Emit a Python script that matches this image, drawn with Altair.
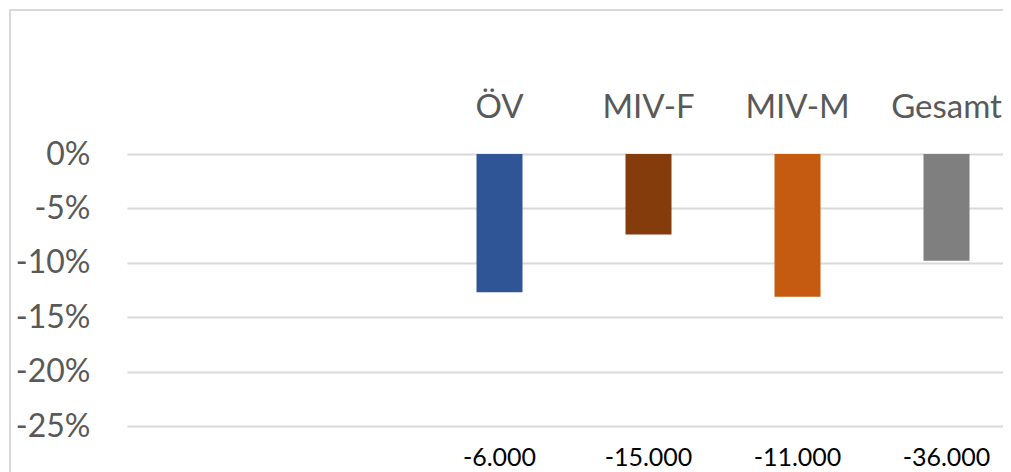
import altair as alt
import pandas as pd

# Data
placeholders = ["", " "]  # two empty category slots on the left
categories = ["ÖV", "MIV-F", "MIV-M", "Gesamt"]
values = [-0.127, -0.074, -0.131, -0.098]
value_labels = ["-6.000", "-15.000", "-11.000", "-36.000"]
colors = ["#2F5597", "#843C0C", "#C55A11", "#7F7F7F"]
y_ticks = [0, -0.05, -0.10, -0.15, -0.20, -0.25]
label_level = -0.279

df = pd.DataFrame({"cat": categories, "val": values, "lab": value_labels,
                   "lvl": [label_level] * len(categories)})

FONT = "Lato"
GRID = "#D9D9D9"

# step 149 px, bar 46 px; the last band runs past the visible edge
x_scale = alt.Scale(domain=placeholders + categories,
                    paddingInner=0.69128, paddingOuter=0.28523, align=0.6059)
y_scale = alt.Scale(domain=[-0.30, 0], range=[326.7, 0], nice=False)

base = alt.Chart(df)

bars = base.mark_bar().encode(
    x=alt.X("cat:N", scale=x_scale, sort=placeholders + categories,
            axis=alt.Axis(orient="top", title=None, labelAngle=0, ticks=False,
                          tickSize=0, domain=False, grid=False,
                          labelPadding=37, labelBaseline="alphabetic",
                          labelFont=FONT, labelFontSize=33, labelColor="#595959")),
    y=alt.Y("val:Q", scale=y_scale,
            axis=alt.Axis(title=None, values=y_ticks, ticks=False, tickSize=0,
                          domain=False, grid=True, gridColor=GRID, gridWidth=2,
                          labelExpr="toString(round(datum.value*100)) + '%'",
                          labelPadding=37, labelFont=FONT, labelFontSize=32,
                          labelColor="#595959")),
    color=alt.Color("cat:N", scale=alt.Scale(domain=categories, range=colors),
                    legend=None),
)

texts = base.mark_text(font=FONT, fontSize=25, color="#000000",
                       baseline="middle", align="center").encode(
    x=alt.X("cat:N", scale=x_scale),
    y=alt.Y("lvl:Q", scale=y_scale),
    text="lab:N",
)

frame_data = alt.Data(values=[{"k": 1}])
left_border = alt.Chart(frame_data).mark_rule(color=GRID, strokeWidth=2).encode(
    x=alt.value(-117), y=alt.value(-144), y2=alt.value(340))
top_border = alt.Chart(frame_data).mark_rule(color=GRID, strokeWidth=2).encode(
    x=alt.value(-118), x2=alt.value(876), y=alt.value(-144))

chart = alt.layer(bars, texts, left_border, top_border).properties(
    width=876, height=322,
    autosize=alt.AutoSizeParams(type="none"),
    padding={"left": 119, "top": 146, "right": 0, "bottom": 0},
).configure_view(stroke=None).configure_axis(labelFont=FONT)

chart.save("out.html", embed_options={"renderer": "svg", "actions": False})
